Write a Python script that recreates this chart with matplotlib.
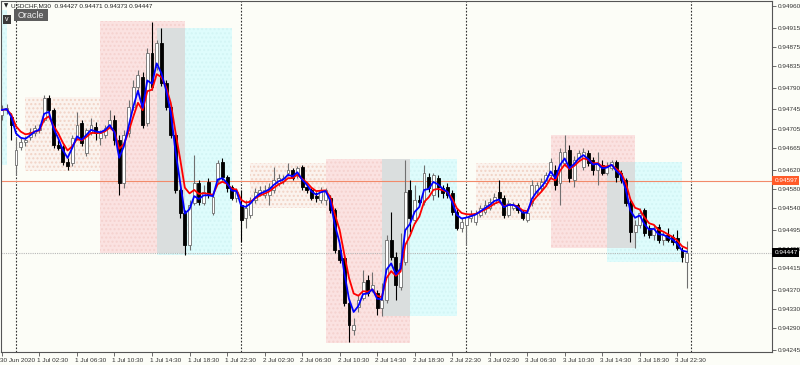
import numpy as np
import pandas as pd
import matplotlib
matplotlib.use("Agg")
import matplotlib.pyplot as plt
from matplotlib.patches import Rectangle
import matplotlib.transforms as mtransforms

plt.rcParams['font.family'] = ['Liberation Sans', 'DejaVu Sans']

# USDCHF M30 bars, prices in points (1 point = 0.00001)
start_time = "2020-06-30 22:30"
open_pts = [94733, 94744, 94729, 94630, 94667, 94677, 94688, 94696, 94702, 94723,
            94769, 94744, 94671, 94667, 94636, 94634, 94686, 94717, 94655, 94698,
            94709, 94686, 94692, 94713, 94723, 94682, 94592, 94696, 94750, 94792,
            94812, 94717, 94862, 94833, 94883, 94800, 94750, 94692, 94578, 94530,
            94463, 94551, 94592, 94551, 94594, 94530, 94598, 94636, 94605, 94584,
            94561, 94547, 94520, 94526, 94557, 94571, 94567, 94567, 94578, 94592,
            94596, 94613, 94619, 94609, 94626, 94584, 94578, 94565, 94557, 94557,
            94561, 94536, 94453, 94436, 94343, 94287, 94335, 94353, 94391, 94370,
            94364, 94332, 94349, 94474, 94438, 94376, 94428, 94578, 94515, 94557,
            94553, 94605, 94567, 94603, 94582, 94584, 94571, 94532, 94499, 94505,
            94520, 94511, 94526, 94532, 94540, 94551, 94574, 94561, 94526, 94540,
            94547, 94532, 94515, 94551, 94574, 94582, 94592, 94609, 94619, 94592,
            94634, 94661, 94598, 94644, 94626, 94655, 94640, 94619, 94630, 94613,
            94623, 94636, 94613, 94598, 94551, 94490, 94505, 94536, 94499, 94484,
            94501, 94474, 94484, 94480, 94478, 94453, 94427]
high_pts = [94754, 94756, 94738, 94688, 94686, 94690, 94707, 94713, 94715, 94775,
            94775, 94748, 94682, 94671, 94644, 94692, 94740, 94723, 94707, 94727,
            94719, 94702, 94713, 94744, 94733, 94692, 94702, 94765, 94806, 94827,
            94823, 94873, 94927, 94889, 94914, 94806, 94754, 94698, 94582, 94536,
            94557, 94650, 94598, 94588, 94603, 94571, 94640, 94644, 94609, 94588,
            94582, 94578, 94557, 94563, 94582, 94586, 94588, 94592, 94626, 94611,
            94609, 94634, 94623, 94628, 94630, 94588, 94582, 94574, 94584, 94582,
            94567, 94540, 94463, 94443, 94349, 94312, 94359, 94411, 94401, 94407,
            94370, 94384, 94484, 94532, 94449, 94488, 94640, 94598, 94588, 94567,
            94630, 94613, 94613, 94609, 94588, 94592, 94578, 94540, 94520, 94530,
            94536, 94536, 94547, 94557, 94561, 94571, 94598, 94567, 94557, 94553,
            94551, 94536, 94536, 94598, 94594, 94603, 94615, 94644, 94630, 94665,
            94692, 94671, 94648, 94661, 94665, 94661, 94646, 94657, 94640, 94636,
            94640, 94640, 94619, 94603, 94557, 94515, 94540, 94540, 94505, 94505,
            94507, 94490, 94499, 94486, 94495, 94459, 94471]
low_pts = [94723, 94736, 94682, 94609, 94661, 94669, 94682, 94690, 94696, 94719,
           94740, 94665, 94661, 94630, 94619, 94628, 94682, 94669, 94648, 94692,
           94682, 94671, 94686, 94707, 94671, 94567, 94582, 94688, 94744, 94781,
           94707, 94711, 94785, 94827, 94794, 94744, 94686, 94571, 94520, 94443,
           94453, 94547, 94547, 94547, 94561, 94526, 94592, 94598, 94574, 94557,
           94553, 94470, 94499, 94520, 94551, 94565, 94561, 94547, 94571, 94586,
           94590, 94607, 94598, 94603, 94578, 94571, 94557, 94553, 94551, 94547,
           94530, 94447, 94426, 94337, 94262, 94276, 94324, 94349, 94357, 94366,
           94318, 94316, 94343, 94432, 94349, 94370, 94422, 94490, 94509, 94549,
           94547, 94574, 94557, 94563, 94561, 94561, 94526, 94495, 94490, 94463,
           94511, 94505, 94522, 94528, 94536, 94547, 94557, 94520, 94522, 94536,
           94530, 94515, 94511, 94544, 94567, 94576, 94586, 94603, 94578, 94547,
           94628, 94594, 94584, 94638, 94619, 94628, 94609, 94588, 94609, 94609,
           94619, 94594, 94592, 94544, 94470, 94457, 94499, 94482, 94478, 94474,
           94468, 94463, 94470, 94463, 94453, 94428, 94373]
close_pts = [94744, 94748, 94713, 94661, 94677, 94682, 94698, 94707, 94707, 94769,
             94744, 94671, 94665, 94636, 94628, 94686, 94713, 94675, 94702, 94713,
             94696, 94696, 94707, 94723, 94682, 94592, 94692, 94750, 94792, 94817,
             94713, 94862, 94792, 94883, 94800, 94750, 94692, 94578, 94530, 94463,
             94547, 94592, 94553, 94574, 94567, 94563, 94634, 94605, 94582, 94561,
             94574, 94515, 94540, 94557, 94574, 94578, 94578, 94584, 94598, 94603,
             94603, 94619, 94603, 94623, 94584, 94578, 94561, 94561, 94578, 94578,
             94536, 94453, 94432, 94343, 94297, 94297, 94349, 94386, 94364, 94380,
             94332, 94349, 94474, 94438, 94380, 94426, 94574, 94520, 94557, 94553,
             94613, 94582, 94609, 94584, 94571, 94567, 94532, 94499, 94511, 94522,
             94526, 94530, 94540, 94547, 94553, 94563, 94561, 94526, 94551, 94547,
             94536, 94520, 94530, 94588, 94588, 94594, 94609, 94636, 94588, 94657,
             94657, 94603, 94640, 94655, 94657, 94634, 94619, 94634, 94613, 94626,
             94636, 94605, 94598, 94551, 94490, 94505, 94530, 94488, 94484, 94499,
             94474, 94484, 94474, 94470, 94457, 94438, 94447]

# Oracle zones
zone_start = ["2020-06-30 15:00", "2020-07-01 01:00", "2020-07-01 09:00", "2020-07-01 15:00",
              "2020-07-02 01:00", "2020-07-02 09:00", "2020-07-02 15:00",
              "2020-07-03 01:00", "2020-07-03 09:00", "2020-07-03 15:00"]
zone_end = ["2020-06-30 23:00", "2020-07-01 09:00", "2020-07-01 18:00", "2020-07-01 23:00",
            "2020-07-02 09:00", "2020-07-02 18:00", "2020-07-02 23:00",
            "2020-07-03 09:00", "2020-07-03 18:00", "2020-07-03 23:00"]
zone_top = [94952, 94771, 94929, 94914, 94634, 94642, 94642, 94634, 94692, 94636]
zone_bottom = [94630, 94617, 94447, 94443, 94540, 94260, 94316, 94515, 94457, 94428]
zone_kind = ["cyan", "range", "pink", "cyan", "range", "pink", "cyan", "range", "pink", "cyan"]

separators = ["2020-07-01 00:00", "2020-07-02 00:00", "2020-07-03 00:00", "2020-07-04 00:00"]
red_level = 0.94597
bid_level = 0.94447
y_ticks = [0.94960, 0.94915, 0.94875, 0.94835, 0.94790, 0.94745, 0.94705, 0.94665, 0.94620,
           0.94580, 0.94540, 0.94495, 0.94455, 0.94415, 0.94370, 0.94330, 0.94290, 0.94245]

o = np.array(open_pts) / 1e5
h = np.array(high_pts) / 1e5
l = np.array(low_pts) / 1e5
c = np.array(close_pts) / 1e5
times = pd.date_range(start_time, periods=len(c), freq="30min")
t0 = times[0]
x = np.arange(len(c))


def bar_pos(ts):
    return (pd.Timestamp(ts) - t0) / pd.Timedelta("30min")


bg = "#fcfdf7"
fs = 4.6
fig = plt.figure(figsize=(8, 3.65), dpi=100, facecolor=bg)
ax = fig.add_axes([1 / 800, 13 / 365, 771 / 800, 351 / 365])
ax.set_facecolor(bg)
ax.set_xlim(-0.2, 164.2)
ax.set_ylim(0.94241, 0.949704)

colors = {"cyan": "#defcfc", "pink": "#fbe2e1", "range": "#fbf3ee"}
hatch_col = {"cyan": "#d3f5f5", "pink": "#f5d2cf", "range": "#f1d3c6"}
rects = []
for s, e, tp, bt, k in zip(zone_start, zone_end, zone_top, zone_bottom, zone_kind):
    x0, x1 = bar_pos(s), bar_pos(e)
    y0, y1 = bt / 1e5, tp / 1e5
    rects.append((x0, x1, y0, y1, k))
    ax.add_patch(Rectangle((x0, y0), x1 - x0, y1 - y0, facecolor=colors[k],
                           edgecolor=hatch_col[k], hatch="....", lw=0, zorder=1))
# overlap of pink and cyan zones shows grey
for a in rects:
    for b in rects:
        if a[4] == "pink" and b[4] == "cyan":
            ox0, ox1 = max(a[0], b[0]), min(a[1], b[1])
            oy0, oy1 = max(a[2], b[2]), min(a[3], b[3])
            if ox1 > ox0 and oy1 > oy0:
                ax.add_patch(Rectangle((ox0, oy0), ox1 - ox0, oy1 - oy0,
                                       facecolor="#dadede", lw=0, zorder=1.1))

for s in separators:
    ax.axvline(bar_pos(s), color="#303030", lw=0.8, ls=(0, (1.5, 1.5)), zorder=2)

ax.axhline(red_level, color="#f28a6a", lw=0.8, zorder=2)
ax.axhline(bid_level, color="#b8b8b8", lw=0.8, ls=(0, (1, 1)), zorder=2)

# candles
up = c >= o
ax.vlines(x[up], l[up], h[up], color="#707070", lw=0.8, zorder=3)
ax.vlines(x[~up], l[~up], h[~up], color="#000000", lw=0.8, zorder=3)
w = 0.62
ax.bar(x[up], c[up] - o[up], bottom=o[up], width=w, color="white",
       edgecolor="#6e6e6e", lw=0.6, zorder=4)
ax.bar(x[~up], o[~up] - c[~up], bottom=c[~up], width=w, color="black",
       edgecolor="black", lw=0.6, zorder=4)

# moving averages
cs = pd.Series(c)
ax.plot(x, cs.ewm(span=5, adjust=False).mean(), color="#ff0000", lw=1.3, zorder=5)
ax.plot(x, cs.ewm(span=3, adjust=False).mean(), color="#0000ff", lw=1.3, zorder=6)

# axes styling
for sp in ax.spines.values():
    sp.set_color("#555555")
    sp.set_linewidth(0.8)
ax.yaxis.tick_right()
ax.set_yticks(y_ticks)
ax.set_yticklabels([f"{v:.5f}" for v in y_ticks])
ax.tick_params(axis="y", length=3, width=0.6, color="#555555", labelsize=fs,
               labelcolor="#333333", pad=1.5)
xt = list(range(0, len(c), 8))
xl = ["30 Jun 2020" if i == 0 else f"{times[i].day} {times[i].strftime('%b %H:%M')}" for i in xt]
ax.set_xticks(xt)
ax.set_xticklabels(xl)
ax.tick_params(axis="x", length=3, width=0.6, color="#555555", labelsize=fs,
               labelcolor="#333333", pad=1.5)
shift = mtransforms.ScaledTranslation(-2 / 100, 0, fig.dpi_scale_trans)
for lab in ax.get_xticklabels():
    lab.set_horizontalalignment("left")
    lab.set_transform(lab.get_transform() + shift)

# price labels on the right
trans = mtransforms.blended_transform_factory(ax.transAxes, ax.transData)
ax.text(1.003, red_level, f"{red_level:.5f}", transform=trans, fontsize=fs, color="white",
        va="center", ha="left", zorder=10, clip_on=False,
        bbox=dict(boxstyle="square,pad=0.3", fc="#ff5a28", ec="none"))
ax.text(1.003, bid_level, f"{bid_level:.5f}", transform=trans, fontsize=fs, color="white",
        va="center", ha="left", zorder=10, clip_on=False,
        bbox=dict(boxstyle="square,pad=0.3", fc="#000000", ec="none"))

# header and Oracle button
fig.text(4 / 800, 1 - 6 / 365, "\u25bc", fontsize=4, color="#202020", va="center",
         family="DejaVu Sans")
fig.text(11 / 800, 1 - 6 / 365, "USDCHF,M30  0.94427 0.94471 0.94373 0.94447",
         fontsize=fs, color="#202020", va="center")
fig.patches.append(Rectangle((14 / 800, 1 - 21 / 365), 34 / 800, 12 / 365,
                             transform=fig.transFigure, facecolor="#5e5e5e", lw=0))
fig.text(31 / 800, 1 - 15.5 / 365, "Oracle", fontsize=6.5, color="#eeeeee",
         va="center", ha="center")
fig.patches.append(Rectangle((3 / 800, 1 - 24 / 365), 8 / 800, 9 / 365,
                             transform=fig.transFigure, facecolor="#3a3a3a", lw=0))
fig.text(7 / 800, 1 - 19.5 / 365, "v", fontsize=5, color="white", va="center", ha="center")

fig.savefig("out.png", dpi=100, facecolor=bg)
